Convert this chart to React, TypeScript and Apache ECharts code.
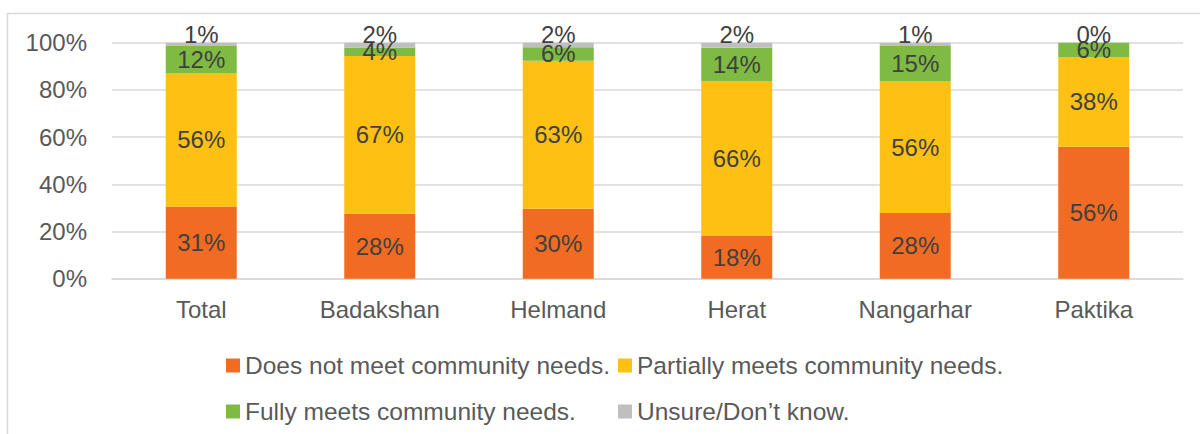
import React, { useEffect, useRef } from "react";
import * as echarts from "echarts";

const categories = ["Total", "Badakshan", "Helmand", "Herat", "Nangarhar", "Paktika"];
const doesNotMeet = [30.6, 27.5, 29.6, 18.1, 27.8, 55.9];
const partiallyMeets = [56.4, 66.9, 62.8, 65.7, 55.8, 38.0];
const fullyMeets = [11.6, 3.6, 5.7, 14.1, 15.0, 6.1];
const unsure = [1.4, 2.0, 1.9, 2.1, 1.4, 0.0];
const seriesNames = [
  "Does not meet community needs.",
  "Partially meets community needs.",
  "Fully meets community needs.",
  "Unsure/Don\u2019t know.",
];
const colors = ["#F26B22", "#FDC013", "#7FBA42", "#BFBFBF"];

const FONT = "'Liberation Sans', Arial, sans-serif";

export default function App() {
  const ref = useRef<HTMLDivElement>(null);
  useEffect(() => {
    if (!ref.current) return;
    const chart = echarts.init(ref.current, undefined, { renderer: "svg" });
    const dataSets = [doesNotMeet, partiallyMeets, fullyMeets, unsure];
    const series = dataSets.map((d, i) => ({
      name: seriesNames[i],
      type: "bar",
      stack: "all",
      data: d,
      barWidth: 71,
      itemStyle: { color: colors[i] },
      label: {
        show: true,
        position: i === 3 ? "top" : "inside",
        distance: i === 3 ? -4 : 5,
        formatter: (p: any) => Math.round(p.value) + "%",
        color: "#404040",
        fontSize: 24,
        fontFamily: FONT,
      },
    }));
    const legendPos = [
      { left: 226, top: 353 },
      { left: 618, top: 353 },
      { left: 226, top: 399 },
      { left: 618, top: 399 },
    ];
    const legends = seriesNames.map((n, i) => ({
      data: [n],
      left: legendPos[i].left,
      top: legendPos[i].top,
      padding: 0,
      itemWidth: 14,
      itemHeight: 14,
      icon: "rect",
      selectedMode: false,
      textStyle: { color: "#595959", fontSize: 24.5, fontFamily: FONT, lineHeight: 14 },
    }));
    chart.setOption({
      animation: false,
      color: colors,
      textStyle: { fontFamily: FONT },
      graphic: [
        {
          type: "rect",
          shape: { x: 7.5, y: 13.5, width: 1400, height: 600 },
          style: { fill: "none", stroke: "#D9D9D9", lineWidth: 1.5 },
          silent: true,
        },
      ],
      legend: legends,
      grid: { left: 112, right: 17, top: 42.7, bottom: 155.3, containLabel: false },
      xAxis: {
        type: "category",
        data: categories,
        axisLine: { show: true, lineStyle: { color: "#D9D9D9", width: 1.5 } },
        axisTick: { show: false },
        axisLabel: { color: "#595959", fontSize: 24, fontFamily: FONT, margin: 19 },
      },
      yAxis: {
        type: "value",
        min: 0,
        max: 100,
        interval: 20,
        axisLine: { show: false },
        axisTick: { show: false },
        splitLine: { lineStyle: { color: "#D9D9D9", width: 1.5 } },
        axisLabel: {
          formatter: "{value}%",
          color: "#595959",
          fontSize: 24,
          fontFamily: FONT,
          margin: 25,
        },
      },
      series,
    });
    return () => chart.dispose();
  }, []);
  return (
    <div
      ref={ref}
      style={{ position: "absolute", left: 0, top: 0, width: 1200, height: 434 }}
    />
  );
}
